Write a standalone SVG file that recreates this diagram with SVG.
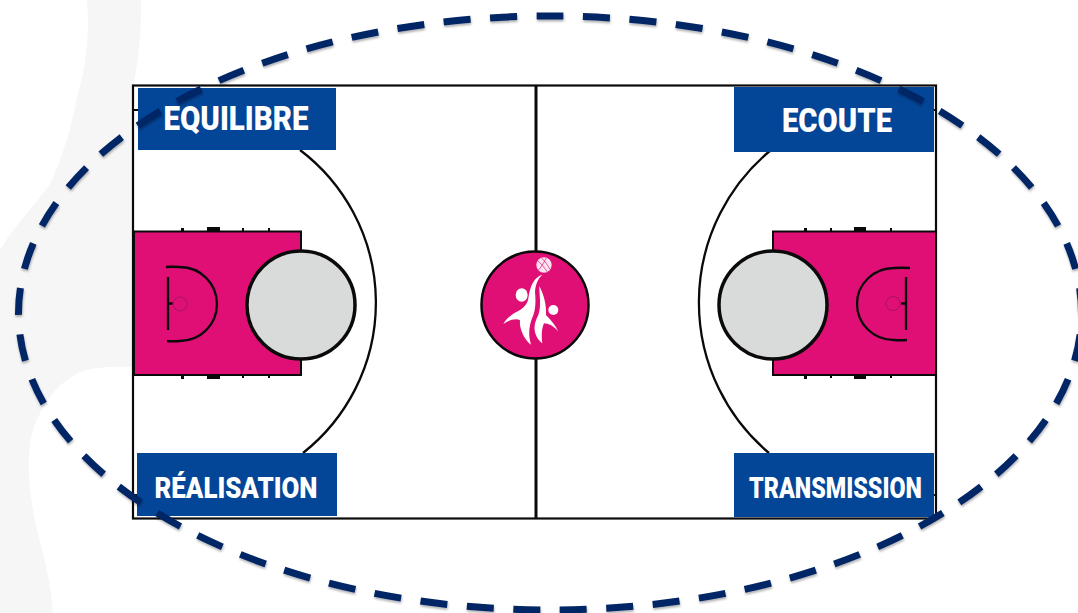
<svg xmlns="http://www.w3.org/2000/svg" width="1078" height="613" viewBox="0 0 1078 613">
<defs>
<filter id="soft" x="-5%" y="-5%" width="110%" height="110%"><feDropShadow dx="0.500" dy="2" stdDeviation="1.300" flood-color="#000" flood-opacity=".3"/></filter>
</defs>
<style>
.line{fill:none;stroke:#0a0a0a;stroke-width:3}
.thin{fill:none;stroke:#0a0a0a;stroke-width:2.300}
.key{fill:#df0f75;stroke:#0a0a0a;stroke-width:2}
.disc{fill:#d9dbda;stroke:#0a0a0a;stroke-width:3.500}
.lab{fill:#034597}
.t{font-family:"Roboto","Liberation Sans",sans-serif;font-weight:900;fill:#fff;text-anchor:middle}
.mark{fill:#0a0a0a}
.fig{fill:#fff}
</style>
<rect width="1078" height="613" fill="#fff"/>
<g id="watermark" fill="#f6f6f6">
<path d="M87 0H141C142 30 138 60 133 90V367C105 366 85 368 73 376C52 388 35 415 30 443C27 470 30 490 33 510C38 540 50 570 53 613H0V250C15 225 35 205 50 184C62 160 72 125 77 98C85 70 90 40 87 0Z"/>
</g>
<g id="court">
<rect x="133" y="85.500" width="803" height="433" fill="#fff" stroke="#0a0a0a" stroke-width="2.200"/>
<path class="line" d="M536 85V518"/>
<path class="thin" d="M300 150A191.500 191.500 0 0 1 303 453"/>
<path class="thin" d="M771 150A197 197 0 0 0 769 453"/>
<path class="mark" d="M133 109h5v2h-5zM133 494h5v2h-5zM934 109h2v2h-2zM934 494h2v2h-2z"/>
</g>
<g id="left-key">
<rect class="key" x="134" y="231.500" width="167" height="143.500"/>
<path class="mark" d="M181 228h3v3h-3zM207 227h13v4h-13zM242 228h2v3h-2zM268 228h2v3h-2zM181 375h3v4h-3zM207 375h13v4h-13zM242 375h2v3h-2zM268 375h2v3h-2z"/>
<path class="thin" d="M166 267Q172 266.500 180 267A37 37 0 0 1 180 341Q172 341.500 167 341M168 277V330M168 303.500H173"/>
<circle cx="180" cy="304" r="7" fill="none" stroke="#a8125f" stroke-width="1"/>
<circle class="disc" cx="301" cy="305" r="54"/>
</g>
<g id="right-key">
<rect class="key" x="773" y="231.500" width="163" height="143.500"/>
<path class="mark" d="M804 228h3v3h-3zM830 228h2v3h-2zM854 227h12v4h-12zM890 228h2v3h-2zM804 375h3v4h-3zM830 375h2v3h-2zM854 375h12v4h-12zM890 375h2v3h-2z"/>
<path class="thin" d="M910 268Q902 267.500 894 268A37 36 0 0 0 894 340Q900 340.500 907 340M906 277V330M901 303.500H906"/>
<circle cx="893" cy="303.500" r="7" fill="none" stroke="#a8125f" stroke-width="1"/>
<circle class="disc" cx="773" cy="305" r="54"/>
</g>
<g id="center-logo">
<circle cx="535" cy="305" r="53.500" fill="#df0f75" stroke="#0a0a0a" stroke-width="2.500"/>
<g transform="translate(470 240) scale(.33333)">
<circle cx="222" cy="75" r="23" fill="#fbe3ef"/>
<path d="M203 62C215 72 225 85 232 96M215 54C225 65 235 78 240 88M229 53C222 68 212 84 203 92" fill="none" stroke="#df0f75" stroke-width="2"/>
<ellipse class="fig" cx="155" cy="165" rx="18" ry="20"/>
<circle class="fig" cx="250" cy="210" r="15"/>
<path class="fig" d="M217 104C195 110 180 135 175 175C173 190 165 200 150 210C130 220 108 235 100 252C115 242 132 234 150 240C147 265 162 298 183 314C175 285 175 260 190 225C198 205 197 175 195 155C197 130 205 115 217 104Z"/>
<path class="fig" d="M208 138C208 170 215 195 205 225C195 245 188 265 200 290C205 300 212 306 217 310C215 295 213 270 222 250C235 250 252 258 265 275C258 258 245 243 228 225C230 195 222 165 208 138Z"/>
</g>
</g>
<g id="equilibre"><rect class="lab" x="138" y="88" width="198" height="62"/><text class="t" x="236" y="130" font-size="33" textLength="145" lengthAdjust="spacingAndGlyphs">EQUILIBRE</text></g>
<g id="ecoute"><rect class="lab" x="734" y="87" width="200" height="65"/><text class="t" x="837" y="132" font-size="33" textLength="110" lengthAdjust="spacingAndGlyphs">ECOUTE</text></g>
<g id="realisation"><rect class="lab" x="137" y="453" width="200" height="63"/><text class="t" x="236" y="497.500" font-size="29" textLength="163" lengthAdjust="spacingAndGlyphs">RÉALISATION</text></g>
<g id="transmission"><rect class="lab" x="734" y="453" width="200" height="64"/><text class="t" x="835.500" y="497.500" font-size="29" textLength="173" lengthAdjust="spacingAndGlyphs">TRANSMISSION</text></g>
<g id="connectors">
<path filter="url(#soft)" d="M550 16A531.500 297 0 0 1 550 610A531.500 297 0 0 1 550 16Z" fill="none" stroke="#022565" stroke-width="7" pathLength="5700" stroke-dasharray="58 42" stroke-dashoffset="29"/>
</g>
</svg>
